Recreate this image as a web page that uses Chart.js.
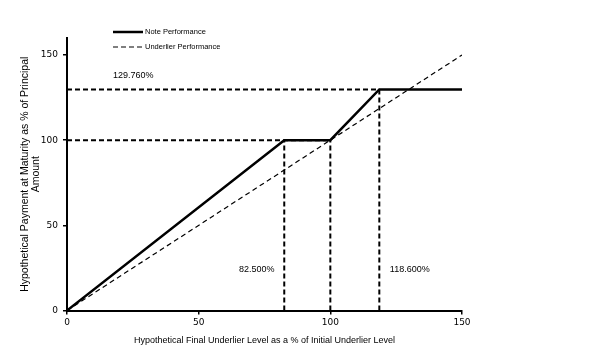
<!DOCTYPE html>
<html>
<head>
<meta charset="utf-8">
<script src="https://cdn.jsdelivr.net/npm/chart.js@4"></script>
<style>
html,body{margin:0;padding:0;background:#fff;}
#wrap{width:614px;height:357px;position:relative;}
</style>
</head>
<body>
<div id="wrap"><canvas id="c" width="614" height="357"></canvas></div>
<script>
// ---- data ----
const notePerformanceX = [0, 82.5, 100, 118.6, 150];
const notePerformanceY = [0, 100, 100, 129.76, 129.76];
const underlierX = [0, 150];
const underlierY = [0, 150];
const capLevel = 129.76;
const thresholdX = [82.5, 100, 118.6];
const thresholdY = [100, 100, 129.76];
const xTicks = [0, 50, 100, 150];
const yTicks = [0, 50, 100, 150];
const labelTexts = ['129.760%', '82.500%', '118.600%'];

const pts = (xs, ys) => xs.map((x, i) => ({x, y: ys[i]}));

const refDash = {borderColor:'#000', borderWidth:2, borderDash:[5,3], pointRadius:0, fill:false};
const datasets = [
  {label:'Note Performance', data: pts(notePerformanceX, notePerformanceY), borderColor:'#000', borderWidth:2.5, pointRadius:0, fill:false, order:0},
  {label:'Underlier Performance', data: pts(underlierX, underlierY), borderColor:'#000', borderWidth:1.2, borderDash:[5,3.5], pointRadius:0, fill:false, order:1},
  Object.assign({label:'cap', data:[{x:0,y:capLevel},{x:thresholdX[2],y:capLevel}]}, refDash),
  Object.assign({label:'par', data:[{x:0,y:100},{x:thresholdX[1],y:100}]}, refDash),
];
thresholdX.forEach((tx, i) => {
  datasets.push(Object.assign({label:'v'+i, data:[{x:tx,y:0},{x:tx,y:thresholdY[i]}]}, refDash));
});

const annotPlugin = {
  id:'annot',
  afterDatasetsDraw(chart){
    const {ctx, scales:{x, y}} = chart;
    ctx.save();
    ctx.fillStyle = '#000';
    ctx.font = '9px "Liberation Sans", Arial, sans-serif';
    ctx.textBaseline = 'middle';
    ctx.textAlign = 'left';
    ctx.fillText(labelTexts[0], x.getPixelForValue(17.5), y.getPixelForValue(138));
    ctx.textAlign = 'right';
    ctx.fillText(labelTexts[1], x.getPixelForValue(78.8), y.getPixelForValue(24));
    ctx.textAlign = 'left';
    ctx.fillText(labelTexts[2], x.getPixelForValue(122.6), y.getPixelForValue(24));
    // legend
    const lx0 = 113, lx1 = 143;
    const items = [datasets[0], datasets[1]];
    const ly = [32, 47];
    ctx.font = '7.5px "Liberation Sans", Arial, sans-serif';
    items.forEach((d, i) => {
      ctx.beginPath();
      ctx.lineWidth = i === 0 ? 2.5 : 1.2;
      ctx.setLineDash(i === 0 ? [] : [5,3]);
      ctx.strokeStyle = '#000';
      ctx.moveTo(lx0, ly[i]); ctx.lineTo(lx1, ly[i]);
      ctx.stroke();
      ctx.setLineDash([]);
      ctx.textAlign = 'left';
      ctx.fillText(d.label, lx1 + 2, ly[i]);
    });
    ctx.restore();
  }
};

new Chart(document.getElementById('c'), {
  type:'line',
  data:{datasets},
  options:{
    responsive:false,
    animation:false,
    devicePixelRatio:1,
    layout:{padding:{top:38, right:152, bottom:6, left:0}},
    plugins:{legend:{display:false}, tooltip:{enabled:false}},
    scales:{
      x:{
        type:'linear', min:0, max:150,
        afterBuildTicks: s => { s.ticks = xTicks.map(v => ({value:v})); },
        afterFit: s => { s.height = 40.5; },
        grid:{display:true, drawOnChartArea:false, drawTicks:true, tickLength:4, color:'#000', lineWidth:1.5},
        border:{display:true, color:'#000', width:2},
        ticks:{color:'#000', padding:3, font:{family:'"DejaVu Sans", Verdana, sans-serif', size:9}, maxRotation:0},
        title:{display:true, text:'Hypothetical Final Underlier Level as a % of Initial Underlier Level', color:'#000', font:{family:'"Liberation Sans", Arial, sans-serif', size:9, lineHeight:1.1}, padding:{top:0, bottom:6}}
      },
      y:{
        type:'linear', min:0, max:160,
        afterBuildTicks: s => { s.ticks = yTicks.map(v => ({value:v})); },
        afterFit: s => { s.width = 67; },
        grid:{display:true, drawOnChartArea:false, drawTicks:true, tickLength:4, color:'#000', lineWidth:1.5},
        border:{display:true, color:'#000', width:2},
        ticks:{color:'#000', padding:5, font:{family:'"DejaVu Sans", Verdana, sans-serif', size:9}},
        title:{display:true, text:['Hypothetical Payment at Maturity as % of Principal','Amount'], color:'#000', font:{family:'"Liberation Sans", Arial, sans-serif', size:10.5, lineHeight:1.05}, padding:{top:20, bottom:0}}
      }
    }
  },
  plugins:[annotPlugin]
});
</script>
</body>
</html>
